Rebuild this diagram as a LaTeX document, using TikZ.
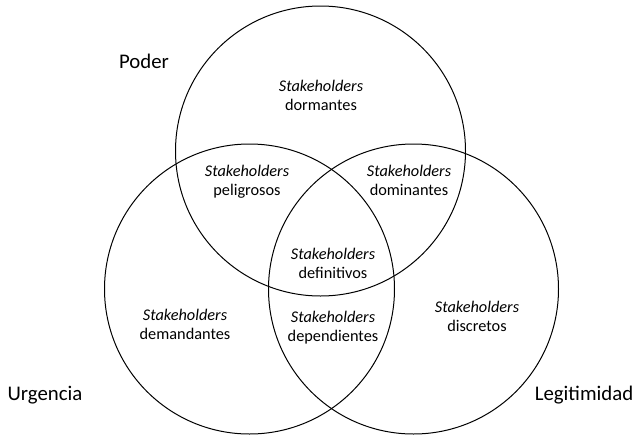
\documentclass[tikz,border=0pt]{standalone}
\usepackage{fontspec}
\setmainfont{Carlito}
\usetikzlibrary{positioning}

\begin{document}
\begin{tikzpicture}[
    x=1pt, y=-1pt,
    every node/.style={font=\fontsize{16.3}{19}\selectfont},
    attr/.style={draw,line width=1pt},
    region/.style={align=center},
    attrname/.style={font=\fontsize{20.8}{24}\selectfont},
]
\useasboundingbox (0,0) rectangle (638,437);

% Centres of the three attributes
\coordinate (poder) at (320.5,151);
\coordinate (urg)   at (249.5,289);
\coordinate (leg)   at (413.5,289);

% --- Circles
\draw[attr] (poder) circle[radius=145pt];
\draw[attr] (urg)   circle[radius=145pt];
\draw[attr] (leg)   circle[radius=145pt];

% --- Regions
\node[region] (dorm) at (321,95)  {\textit{Stakeholders}\\dormantes};
\node[region] (peli) at (247,182) {\textit{Stakeholders}\\peligrosos};
\node[region] (domi) at (409,180) {\textit{Stakeholders}\\dominantes};
\node[region] (defi) at (333,263) {\textit{Stakeholders}\\definitivos};
\node[region] (dema) at (185,324) {\textit{Stakeholders}\\demandantes};
\node[region] (depe) at (333,328) {\textit{Stakeholders}\\dependientes};
\node[region] (disc) at (477,316) {\textit{Stakeholders}\\discretos};

% Attribute names
\node[attrname] (lpoder) at (144,61)  {Poder};
\node[attrname] (lurg)   at (45,395)  {Urgencia};
\node[attrname] (lleg)   at (584,395) {Legitimidad};
\end{tikzpicture}
\end{document}
